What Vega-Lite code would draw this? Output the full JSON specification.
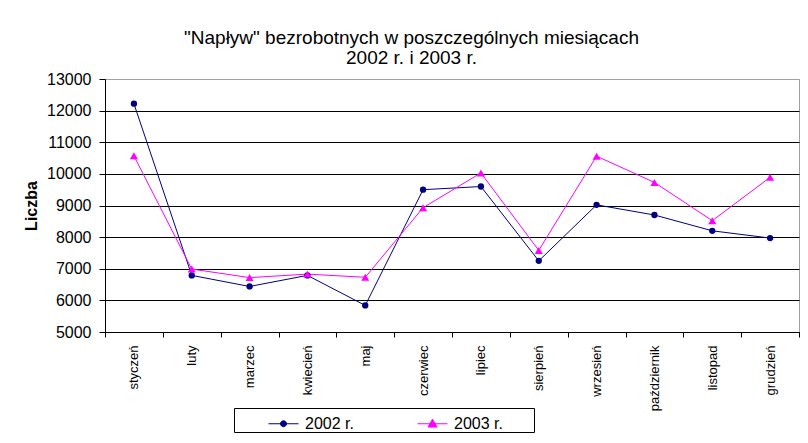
{
  "$schema": "https://vega.github.io/schema/vega-lite/v6.json",
  "width": 694,
  "height": 253,
  "autosize": {"type": "none"},
  "padding": {"left": 105, "top": 79, "right": 9, "bottom": 111},
  "background": "white",
  "title": {
    "text": ["\"Napływ\" bezrobotnych w poszczególnych miesiącach", "2002 r. i  2003 r."],
    "frame": "bounds",
    "anchor": "middle",
    "font": "Liberation Sans",
    "fontSize": 19,
    "fontWeight": "normal",
    "color": "black",
    "lineHeight": 20,
    "offset": 3
  },
  "config": {
    "font": "Liberation Sans",
    "view": {"stroke": "#a0a0a0", "strokeWidth": 1}
  },
  "data": {
    "values": [
      {"miesiac": "styczeń", "rok": "2002 r.", "liczba": 12220},
      {"miesiac": "luty", "rok": "2002 r.", "liczba": 6790},
      {"miesiac": "marzec", "rok": "2002 r.", "liczba": 6440},
      {"miesiac": "kwiecień", "rok": "2002 r.", "liczba": 6790},
      {"miesiac": "maj", "rok": "2002 r.", "liczba": 5840},
      {"miesiac": "czerwiec", "rok": "2002 r.", "liczba": 9500},
      {"miesiac": "lipiec", "rok": "2002 r.", "liczba": 9600},
      {"miesiac": "sierpień", "rok": "2002 r.", "liczba": 7250},
      {"miesiac": "wrzesień", "rok": "2002 r.", "liczba": 9020},
      {"miesiac": "październik", "rok": "2002 r.", "liczba": 8700},
      {"miesiac": "listopad", "rok": "2002 r.", "liczba": 8200},
      {"miesiac": "grudzień", "rok": "2002 r.", "liczba": 7970},
      {"miesiac": "styczeń", "rok": "2003 r.", "liczba": 10570},
      {"miesiac": "luty", "rok": "2003 r.", "liczba": 6990},
      {"miesiac": "marzec", "rok": "2003 r.", "liczba": 6720},
      {"miesiac": "kwiecień", "rok": "2003 r.", "liczba": 6830},
      {"miesiac": "maj", "rok": "2003 r.", "liczba": 6730},
      {"miesiac": "czerwiec", "rok": "2003 r.", "liczba": 8930},
      {"miesiac": "lipiec", "rok": "2003 r.", "liczba": 10030},
      {"miesiac": "sierpień", "rok": "2003 r.", "liczba": 7580},
      {"miesiac": "wrzesień", "rok": "2003 r.", "liczba": 10560},
      {"miesiac": "październik", "rok": "2003 r.", "liczba": 9730},
      {"miesiac": "listopad", "rok": "2003 r.", "liczba": 8520},
      {"miesiac": "grudzień", "rok": "2003 r.", "liczba": 9890}
    ]
  },
  "encoding": {
    "x": {
      "field": "miesiac",
      "type": "nominal",
      "sort": ["styczeń", "luty", "marzec", "kwiecień", "maj", "czerwiec", "lipiec", "sierpień", "wrzesień", "październik", "listopad", "grudzień"],
      "scale": {"paddingInner": 0, "paddingOuter": 0},
      "axis": {
        "title": null,
        "labelAngle": -90,
        "labelFontSize": 13,
        "labelPadding": 8,
        "labelColor": "black",
        "tickSize": 5,
        "tickBand": "extent",
        "tickColor": "black",
        "domainColor": "black",
        "grid": false
      }
    },
    "y": {
      "field": "liczba",
      "type": "quantitative",
      "scale": {"domain": [5000, 13000], "nice": false},
      "axis": {
        "title": "Liczba",
        "titleFontSize": 16,
        "titleFontWeight": "bold",
        "titleColor": "black",
        "titlePadding": 7,
        "values": [5000, 6000, 7000, 8000, 9000, 10000, 11000, 12000, 13000],
        "format": "d",
        "labelFontSize": 16,
        "labelColor": "black",
        "labelPadding": 8,
        "tickSize": 6,
        "tickColor": "black",
        "domainColor": "black",
        "grid": true,
        "gridColor": {"condition": {"test": "datum.value === 13000", "value": "#a0a0a0"}, "value": "black"},
        "gridOpacity": 1
      }
    },
    "color": {
      "field": "rok",
      "type": "nominal",
      "scale": {"domain": ["2002 r.", "2003 r."], "range": ["#000080", "#ff00ff"]},
      "legend": {
        "title": ".",
        "titleOrient": "right",
        "titlePadding": 26,
        "titleFontSize": 16,
        "titleColor": "white",
        "orient": "none",
        "legendX": 129,
        "legendY": 329,
        "direction": "horizontal",
        "strokeColor": "black",
        "fillColor": "white",
        "padding": 0,
        "symbolOffset": 34,
        "symbolSize": 900,
        "symbolStrokeWidth": 1,
        "labelOffset": 6,
        "labelFontSize": 16,
        "labelColor": "black",
        "columnPadding": 29,
        "encode": {
          "symbols": {
            "update": {
              "shape": {"signal": "datum.value === '2002 r.' ? 'M-1,0H1M-0.2,0A0.2,0.2,0,1,0,0.2,0A0.2,0.2,0,1,0,-0.2,0Z' : 'M-1,0H1M0,-0.3L0.3,0.22L-0.3,0.22Z'"},
              "fill": {"signal": "datum.value === '2002 r.' ? '#000080' : '#ff00ff'"},
              "stroke": {"signal": "datum.value === '2002 r.' ? '#000080' : '#ff00ff'"},
              "strokeWidth": {"value": 1},
              "opacity": {"value": 1}
            }
          }
        }
      }
    }
  },
  "layer": [
    {"mark": {"type": "line", "strokeWidth": 1}},
    {
      "transform": [{"filter": {"field": "rok", "equal": "2002 r."}}],
      "mark": {"type": "point", "filled": true, "opacity": 1, "shape": "circle", "size": 40}
    },
    {
      "transform": [{"filter": {"field": "rok", "equal": "2003 r."}}],
      "mark": {"type": "point", "filled": true, "opacity": 1, "shape": "triangle-up", "size": 65}
    }
  ]
}
